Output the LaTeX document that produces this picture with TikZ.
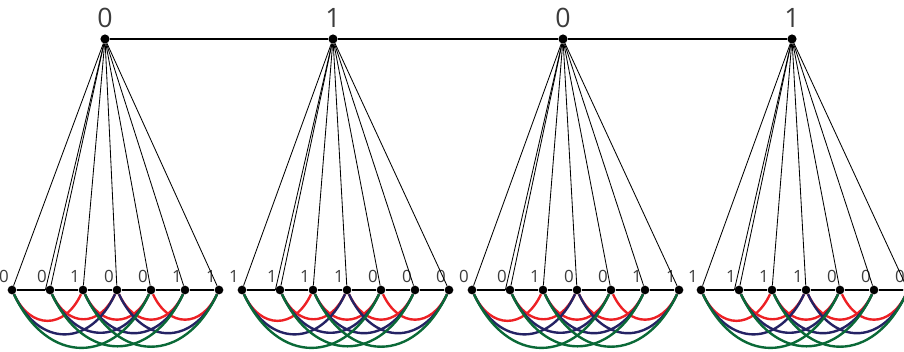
\documentclass[tikz,border=0pt]{standalone}
\usepackage{fontspec}
\setmainfont{Open Sans}

\definecolor{arcred}{RGB}{237,32,36}
\definecolor{arcblue}{RGB}{36,34,100}
\definecolor{arcgreen}{RGB}{10,105,55}
\definecolor{lblgray}{RGB}{60,60,60}

\begin{document}
\begin{tikzpicture}[x=0.025cm,y=-0.025cm,
  dot/.style={circle,fill=black,inner sep=0pt,minimum size=6.2pt},
  topdot/.style={dot,minimum size=6.5pt},
  toplbl/.style={text=lblgray,font=\fontsize{19}{21}\selectfont,inner sep=0pt},
  bitlbl/.style={text=lblgray,font=\fontsize{12}{14}\selectfont,inner sep=0pt},
  fan/.style={line width=0.6pt},
  arc/.style={line width=1.7pt,out=-65,in=-115,looseness=1.5}]

\useasboundingbox (0,0) rectangle (904,352);

% Top row
\node[topdot] (t1) at (105,39) {};
\node[topdot] (t2) at (333,39) {};
\node[topdot] (t3) at (563,39) {};
\node[topdot] (t4) at (792,39) {};
\node[toplbl] (tl1) at (105,18) {0};
\node[toplbl] (tl2) at (333,18) {1};
\node[toplbl] (tl3) at (563,18) {0};
\node[toplbl] (tl4) at (792,18) {1};
\draw[line width=1.8pt] (t1) -- (t2) -- (t3) -- (t4);

% Bottom rows
\foreach \g/\sx/\bits in {1/12/{0,0,1,0,0,1,1},2/242/{1,1,1,1,0,0,0},
                          3/472/{0,0,1,0,0,1,1},4/701/{1,1,1,1,0,0,0}} {
  \foreach \b [count=\i] in \bits {
    \pgfmathsetmacro\dx{{0,38,71,105,139,173,207}[\i-1]}
    \node[dot] (b\g-\i) at (\sx+\dx,290) {};
    \node[bitlbl] (l\g-\i) at (\sx+\dx-8,276) {\b};
  }
  % fan from the top node
  \foreach \i in {1,...,7}
    \draw[fan] (t\g) -- (b\g-\i);
  \draw[fan] (t\g) -- (b\g-2.west);
  % base line
  \draw[line width=1.6pt] (b\g-1) -- (b\g-2) -- (b\g-3) -- (b\g-4)
    -- (b\g-5) -- (b\g-6) -- (b\g-7);
  % arcs
  \foreach \a/\c in {1/3,2/4,3/5,4/6,5/7}
    \draw[arc,arcred] (b\g-\a) to (b\g-\c);
  \foreach \a/\c in {1/4,2/5,3/6,4/7}
    \draw[arc,arcblue] (b\g-\a) to (b\g-\c);
  \foreach \a/\c in {1/5,2/6,3/7}
    \draw[arc,arcgreen] (b\g-\a) to (b\g-\c);
}

\end{tikzpicture}
\end{document}
